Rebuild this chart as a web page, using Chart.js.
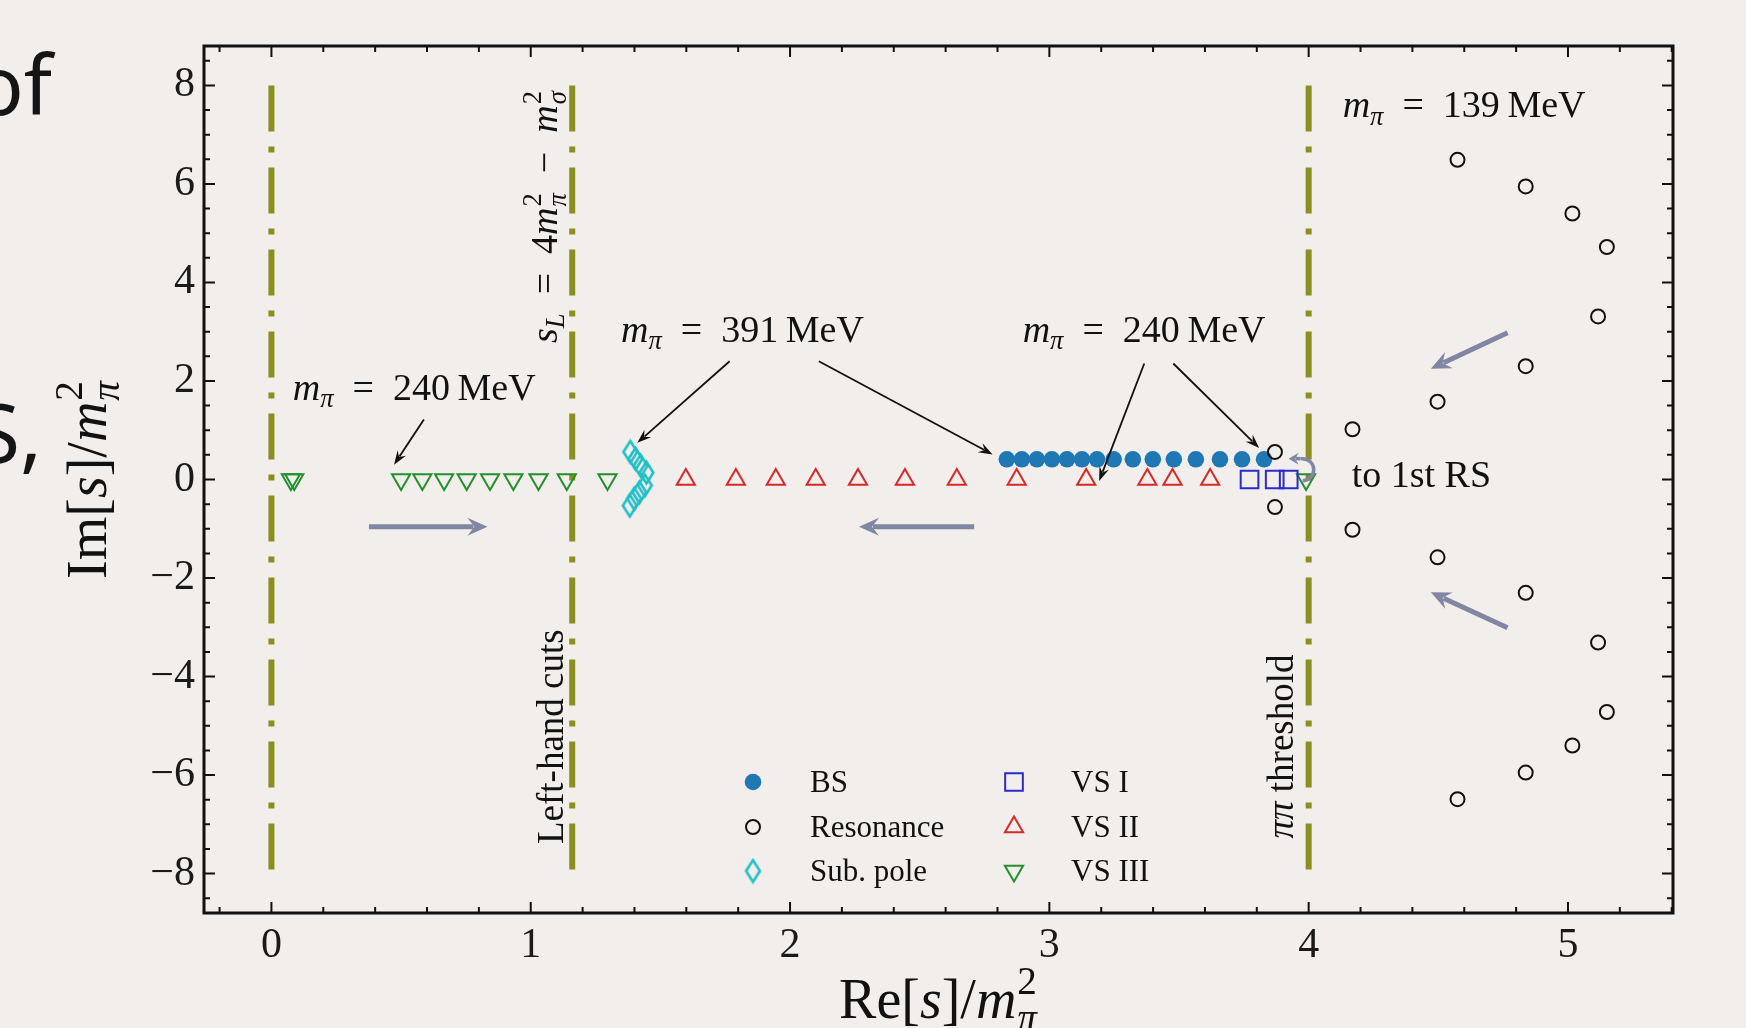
<!DOCTYPE html>
<html>
<head>
<meta charset="utf-8">
<title>Pole trajectories</title>
<script src="https://cdn.jsdelivr.net/npm/chart.js@4.4.1/dist/chart.umd.min.js"></script>
<style>
  html, body { margin: 0; padding: 0; background: #f2eeeb; overflow: hidden; }
  canvas { display: block; }
</style>
</head>
<body>
<canvas id="poles" width="1746" height="1028"></canvas>
<script>
// axis ticks
const xTicks = [0, 1, 2, 3, 4, 5];
const yTicks = [-8, -6, -4, -2, 0, 2, 4, 6, 8];

// pole positions (Re[s]/m_pi^2, Im[s]/m_pi^2)
const bsRe = [2.836, 2.894, 2.952, 3.010, 3.068, 3.126, 3.184, 3.248, 3.322, 3.399, 3.480, 3.565, 3.658, 3.743, 3.828];
const bsIm = [0.41, 0.41, 0.41, 0.41, 0.41, 0.41, 0.41, 0.41, 0.41, 0.41, 0.41, 0.41, 0.41, 0.41, 0.41];

const resRe = [3.87, 3.87, 4.169, 4.169, 4.497, 4.497, 4.837, 4.837, 5.116, 5.116, 5.150, 5.150, 5.017, 5.017, 4.837, 4.837, 4.574, 4.574];
const resIm = [0.56, -0.56, 1.02, -1.02, 1.58, -1.58, 2.30, -2.30, 3.31, -3.31, 4.72, -4.72, 5.40, -5.40, 5.95, -5.95, 6.49, -6.49];

const subRe = [1.384, 1.404, 1.424, 1.446, 1.440, 1.419, 1.399, 1.382];
const subIm = [0.56, 0.42, 0.28, 0.14, -0.12, -0.26, -0.39, -0.53];

const vs1Re = [3.772, 3.869, 3.923];
const vs1Im = [0, 0, 0];

const vs2Re = [1.598, 1.791, 1.945, 2.099, 2.262, 2.443, 2.643, 2.874, 3.142, 3.378, 3.475, 3.620];
const vs2Im = [0, 0, 0, 0, 0, 0, 0, 0, 0, 0, 0, 0];

const vs3Re = [0.075, 0.088, 0.500, 0.582, 0.666, 0.753, 0.843, 0.933, 1.030, 1.139, 1.296, 3.99];
const vs3Im = [0, 0, 0, 0, 0, 0, 0, 0, 0, 0, 0, 0];

// vertical cuts: origin, s_L and the pi-pi threshold
const cutRe = [0, 1.16, 4.0];
const cutIm = [8, -8];

// arrows [x0, y0, x1, y1] in data units
const grayArrows = [[0.376, -0.96, 0.833, -0.96], [2.710, -0.96, 2.266, -0.96], [4.767, 2.98, 4.471, 2.25], [4.767, -3.01, 4.471, -2.29]];
const blackArrows = [[0.588, 1.22, 0.473, 0.30], [1.767, 2.40, 1.411, 0.745], [2.111, 2.40, 2.781, 0.51], [3.366, 2.355, 3.192, -0.03], [3.478, 2.355, 3.809, 0.64]];

const BG = '#f2eeeb';
const SERIF = '"Liberation Serif", "DejaVu Serif", serif';
const OLIVE = '#8a8f1e';
const pts = (xs, ys) => xs.map((v, i) => ({x: v, y: ys[i]}));
const fmt = v => (v < 0 ? '\u2212' + Math.abs(v) : String(v));

function diamond(w, h, color, lw) {
    const c = document.createElement('canvas');
    c.width = w + lw * 2; c.height = h + lw * 2;
    const g = c.getContext('2d');
    g.strokeStyle = color; g.lineWidth = lw;
    g.beginPath();
    g.moveTo(c.width / 2, lw); g.lineTo(c.width - lw, c.height / 2);
    g.lineTo(c.width / 2, c.height - lw); g.lineTo(lw, c.height / 2);
    g.closePath(); g.stroke();
    return c;
}

function marker(label, data, style, color, filled, radius, extra) {
    return Object.assign({
        label: label, data: data, showLine: false,
        pointStyle: style, pointRadius: radius, pointHoverRadius: radius,
        pointBorderColor: color, pointBackgroundColor: filled ? color : 'rgba(0,0,0,0)',
        pointBorderWidth: 2, borderColor: color, backgroundColor: filled ? color : 'rgba(0,0,0,0)'
    }, extra || {});
}

const datasets = [
    marker('BS', pts(bsRe, bsIm), 'circle', '#1f77b4', true, 8.3, {pointBorderWidth: 0}),
    marker('Resonance', pts(resRe, resIm), 'circle', '#111111', false, 7, {order: -1}),
    marker('Sub. pole', pts(subRe, subIm), diamond(14, 22, '#1fbfc6', 2.6), '#1fbfc6', false, 10),
    marker('VS I', pts(vs1Re, vs1Im), 'rect', '#2a2ccc', false, 12.5),
    marker('VS II', pts(vs2Re, vs2Im), 'triangle', '#d8282a', false, 10.5),
    marker('VS III', pts(vs3Re, vs3Im), 'triangle', '#23902c', false, 10.5, {pointRotation: 180})
];
cutRe.forEach(c => datasets.push({
    label: 'cut', data: cutIm.map(v => ({x: c, y: v})), showLine: true,
    borderColor: OLIVE, borderWidth: 6, borderDash: [46, 15, 6, 15], borderCapStyle: 'butt',
    pointRadius: 0, order: 10
}));

function drawRich(ctx, parts, x, y, size, align) {
    const font = (p, s) => (p.i ? 'italic ' : '') + (size * (s || 1)).toFixed(1) + 'px ' + SERIF;
    const widthOf = p => {
        if (p.stack) return Math.max(...p.stack.map(q => { ctx.font = font(q, 0.7); return ctx.measureText(q.t).width; })) + 2;
        ctx.font = font(p, p.s); return ctx.measureText(p.t).width;
    };
    const total = parts.reduce((w, p) => w + widthOf(p), 0);
    let cx = align === 'center' ? x - total / 2 : x;
    ctx.textAlign = 'left'; ctx.textBaseline = 'alphabetic';
    parts.forEach(p => {
        const w = widthOf(p);
        if (p.stack) {
            ctx.font = font(p.stack[0], 0.7); ctx.fillText(p.stack[0].t, cx + 1, y - 0.42 * size);
            ctx.font = font(p.stack[1], 0.7); ctx.fillText(p.stack[1].t, cx + 1, y + 0.24 * size);
        } else {
            ctx.font = font(p, p.s); ctx.fillText(p.t, cx, y + (p.dy || 0) * size);
        }
        cx += w;
    });
}

function arrow(ctx, x0, y0, x1, y1, color, lw, hl, hw) {
    const a = Math.atan2(y1 - y0, x1 - x0), c = Math.cos(a), s = Math.sin(a);
    ctx.strokeStyle = color; ctx.fillStyle = color; ctx.lineWidth = lw; ctx.lineCap = 'butt';
    ctx.beginPath(); ctx.moveTo(x0, y0); ctx.lineTo(x1 - c * hl * 0.7, y1 - s * hl * 0.7); ctx.stroke();
    ctx.beginPath();
    ctx.moveTo(x1, y1);
    ctx.lineTo(x1 - c * hl + s * hw, y1 - s * hl - c * hw);
    ctx.lineTo(x1 - c * hl * 0.65, y1 - s * hl * 0.65);
    ctx.lineTo(x1 - c * hl - s * hw, y1 - s * hl + c * hw);
    ctx.closePath(); ctx.fill();
}

const mpi = val => [{t: 'm', i: 1}, {t: 'π', i: 1, s: 0.7, dy: 0.2}, {t: '\u2002=\u2002' + val + '\u2009MeV'}];
const m2 = sub => [{t: 'm', i: 1}, {stack: [{t: '2'}, {t: sub, i: 1}]}];

const decor = {
    id: 'decor',
    beforeDraw(chart) {
        const c = chart.ctx;
        c.save(); c.fillStyle = BG; c.fillRect(0, 0, chart.width, chart.height); c.restore();
    },
    afterDatasetsDraw(chart) {
        const {ctx, chartArea: a, scales: {x, y}} = chart;
        const px = v => x.getPixelForValue(v), py = v => y.getPixelForValue(v);
        ctx.save();

        grayArrows.forEach(g => arrow(ctx, px(g[0]), py(g[1]), px(g[2]), py(g[3]), '#8186a2', 5, 20, 9));
        blackArrows.forEach(g => arrow(ctx, px(g[0]), py(g[1]), px(g[2]), py(g[3]), '#111', 1.8, 14, 5));

        // small curved arrow back to the first sheet
        const cx = px(3.977), cy = py(0.2);
        ctx.strokeStyle = '#8186a2'; ctx.lineWidth = 3.5;
        ctx.beginPath(); ctx.arc(cx, cy, 11, Math.PI / 2, -Math.PI * 0.55, true); ctx.stroke();
        arrow(ctx, cx - 2, cy - 11, cx - 14, cy - 11, '#8186a2', 3.5, 10, 6);

        // annotations
        ctx.fillStyle = '#111';
        drawRich(ctx, mpi('240'), px(0.082), py(1.62), 38);
        drawRich(ctx, mpi('391'), px(1.348), py(2.80), 38);
        drawRich(ctx, mpi('240'), px(2.897), py(2.80), 38);
        drawRich(ctx, mpi('139'), px(4.131), py(7.35), 38);
        drawRich(ctx, [{t: 'to 1st RS'}], px(4.166), py(-0.16), 38);

        const vtext = (parts, bx, cyv, size) => {
            ctx.save(); ctx.translate(px(bx), py(cyv)); ctx.rotate(-Math.PI / 2);
            drawRich(ctx, parts, 0, 0, size, 'center'); ctx.restore();
        };
        vtext([{t: 's', i: 1}, {t: 'L', i: 1, s: 0.7, dy: 0.2}, {t: '\u2002=\u20024'}].concat(m2('π'), [{t: '\u2002\u2212\u2002'}], m2('σ')), 1.10, 5.34, 38);
        vtext([{t: 'Left-hand cuts'}], 1.123, -5.22, 37);
        vtext([{t: 'ππ', i: 1}, {t: ' threshold'}], 3.938, -5.42, 37);

        // frame with inward ticks on all four sides
        ctx.strokeStyle = '#111'; ctx.lineWidth = 2; ctx.lineCap = 'butt';
        ctx.beginPath();
        for (let k = -1; k <= 27; k++) {
            const v = k / 5, X = px(v), len = k % 5 === 0 ? 11 : 6;
            ctx.moveTo(X, a.bottom); ctx.lineTo(X, a.bottom - len);
            ctx.moveTo(X, a.top); ctx.lineTo(X, a.top + len);
        }
        for (let k = -17; k <= 17; k++) {
            const v = k / 2, Y = py(v), len = k % 4 === 0 ? 11 : 6;
            ctx.moveTo(a.left, Y); ctx.lineTo(a.left + len, Y);
            ctx.moveTo(a.right, Y); ctx.lineTo(a.right - len, Y);
        }
        ctx.stroke();
        ctx.lineWidth = 3;
        ctx.strokeRect(a.left, a.top, a.right - a.left, a.bottom - a.top);

        // legend, two columns inside the frame
        const cols = [[0, 1, 2], [3, 4, 5]];
        const colX = [a.left + 549, a.left + 810];
        const rowY = [a.top + 736, a.top + 781, a.top + 825];
        cols.forEach((col, ci) => col.forEach((di, ri) => {
            const ds = chart.data.datasets[di];
            ctx.fillStyle = ds.pointBackgroundColor; ctx.strokeStyle = ds.pointBorderColor;
            ctx.lineWidth = ds.pointBorderWidth;
            Chart.helpers.drawPoint(ctx, {pointStyle: ds.pointStyle, rotation: ds.pointRotation || 0,
                radius: ds.pointRadius, borderWidth: ds.pointBorderWidth}, colX[ci], rowY[ri]);
            ctx.fillStyle = '#111'; ctx.font = '31px ' + SERIF;
            ctx.textAlign = 'left'; ctx.textBaseline = 'middle';
            ctx.fillText(ds.label, colX[ci] + 57, rowY[ri] + 2);
        }));

        // axis titles
        ctx.fillStyle = '#111';
        drawRich(ctx, [{t: 'Re['}, {t: 's', i: 1}, {t: ']/'}].concat(m2('π')), (a.left + a.right) / 2, a.bottom + 105, 56, 'center');
        ctx.save(); ctx.translate(106, (a.top + a.bottom) / 2); ctx.rotate(-Math.PI / 2);
        drawRich(ctx, [{t: 'Im['}, {t: 's', i: 1}, {t: ']/'}].concat(m2('π')), 0, 0, 56, 'center');
        ctx.restore();

        // fragments of the slide text behind the figure
        ctx.fillStyle = '#151515'; ctx.font = '82px "Noto Sans", sans-serif';
        ctx.textAlign = 'right'; ctx.textBaseline = 'alphabetic';
        ctx.fillText('of', 52, 115);
        ctx.fillText('S,', 42, 463);
        ctx.restore();
    }
};

new Chart(document.getElementById('poles'), {
    type: 'scatter',
    data: {datasets: datasets},
    plugins: [decor],
    options: {
        responsive: false,
        animation: false,
        events: [],
        layout: {padding: {left: 0, top: 46, right: 73, bottom: 0}},
        plugins: {legend: {display: false}, tooltip: {enabled: false}},
        scales: {
            x: {
                type: 'linear', min: -0.26, max: 5.405,
                afterBuildTicks: s => { s.ticks = xTicks.map(v => ({value: v})); },
                afterFit: s => { s.height = 115; },
                grid: {display: false, drawTicks: false},
                border: {display: false},
                ticks: {padding: 8, color: '#1a1a1a', font: {family: SERIF, size: 42}, callback: fmt, maxRotation: 0}
            },
            y: {
                type: 'linear', min: -8.8, max: 8.8,
                afterBuildTicks: s => { s.ticks = yTicks.map(v => ({value: v})); },
                afterFit: s => { s.width = 204; },
                grid: {display: false, drawTicks: false},
                border: {display: false},
                ticks: {padding: 9, color: '#1a1a1a', font: {family: SERIF, size: 42}, callback: fmt}
            }
        }
    }
});
</script>
</body>
</html>
